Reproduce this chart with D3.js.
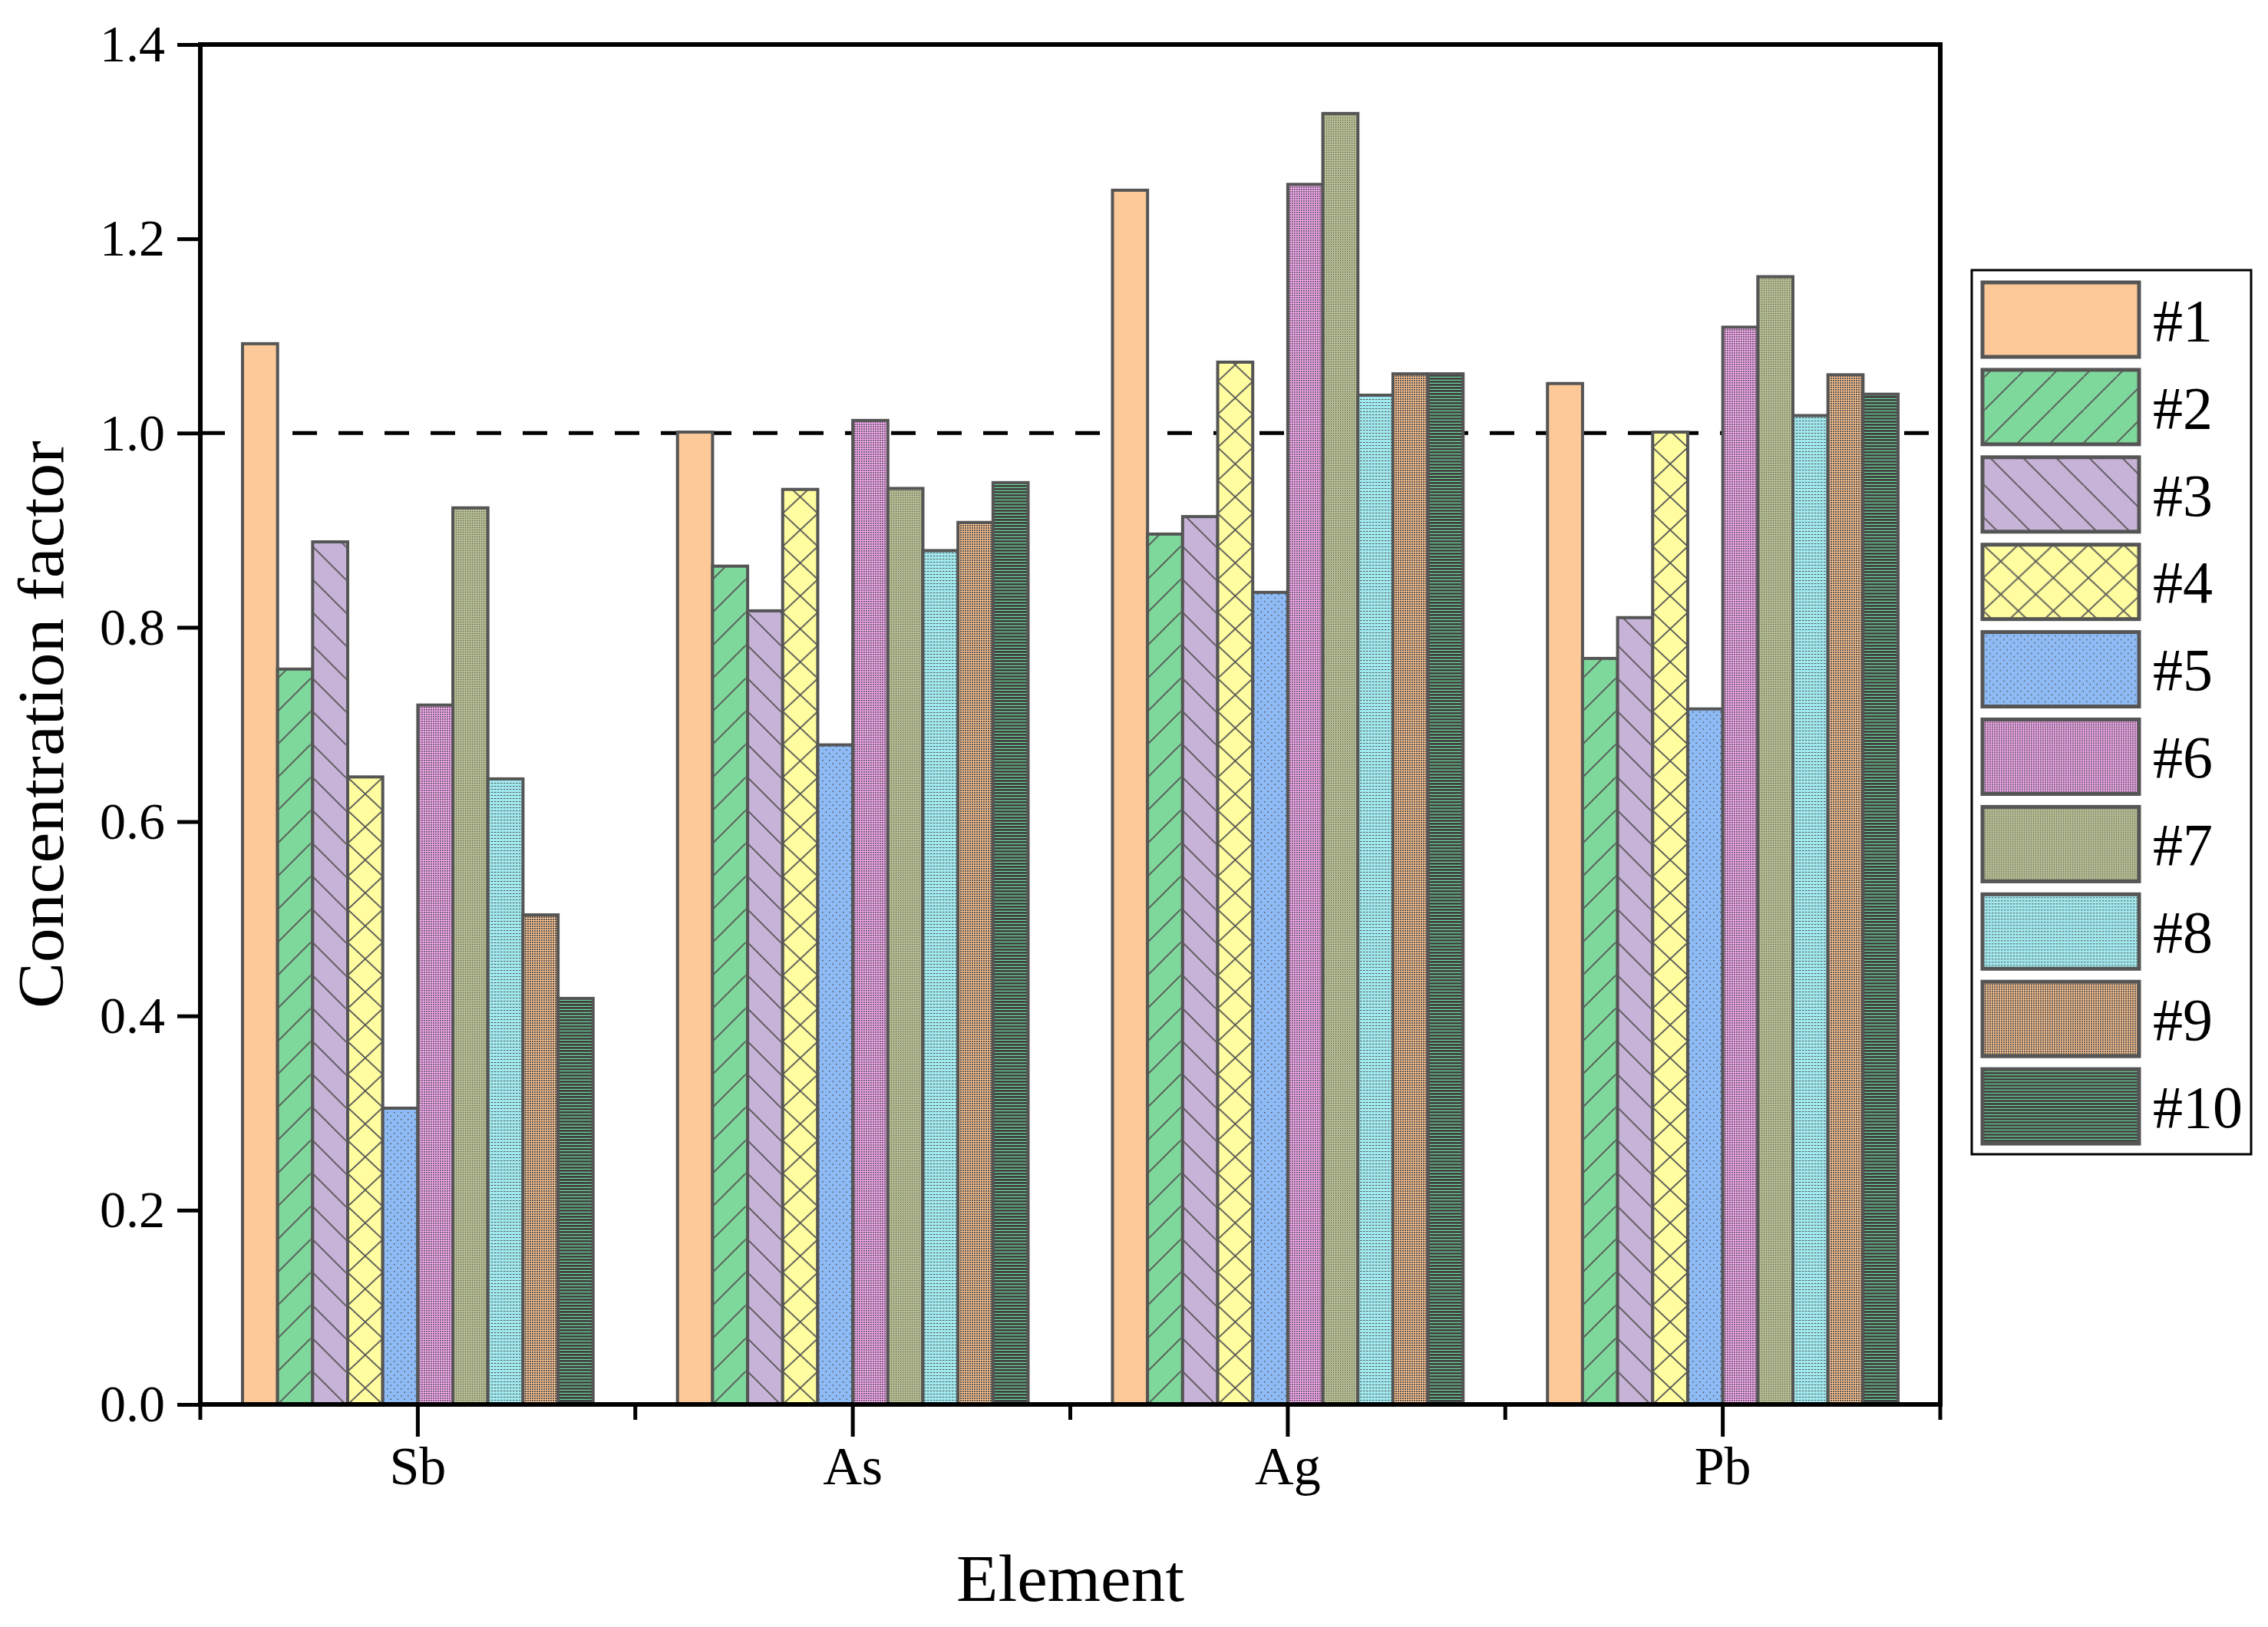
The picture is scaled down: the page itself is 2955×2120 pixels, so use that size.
<!DOCTYPE html>
<html lang="en">
<head>
<meta charset="UTF-8">
<title>Concentration factor</title>
<script src="https://cdn.jsdelivr.net/npm/d3@7"></script>
<style>
  body { margin: 0; background: #fff; }
  text { font-family: "Liberation Serif", "DejaVu Serif", serif; fill: #000; }
</style>
</head>
<body>
<svg></svg>
<script>
    // data
    var elements = ["Sb", "As", "Ag", "Pb"]
    var samples = ["#1", "#2", "#3", "#4", "#5", "#6", "#7", "#8", "#9", "#10"]
    var sbValues = [1.092, 0.757, 0.888, 0.646, 0.305, 0.720, 0.923, 0.644, 0.504, 0.418]
    var asValues = [1.001, 0.863, 0.817, 0.942, 0.679, 1.013, 0.943, 0.879, 0.908, 0.949]
    var agValues = [1.250, 0.896, 0.914, 1.073, 0.836, 1.256, 1.329, 1.039, 1.061, 1.061]
    var pbValues = [1.051, 0.768, 0.810, 1.001, 0.716, 1.109, 1.161, 1.018, 1.060, 1.040]
    var yTicks = [0, 0.2, 0.4, 0.6, 0.8, 1.0, 1.2, 1.4]
    var refLine = 1.0

    var valuesByElement = [sbValues, asValues, agValues, pbValues]

    var baseColors = ["#FDC998", "#7FD89B", "#C8B3D8", "#FFFDA0", "#8EBBF5",
                      "#FBA9F6", "#B3BB90", "#A0E9EF", "#FFC38E", "#6FD99A"]

    var W = 2955, H = 2120
    var plotL = 261, plotR = 2528, plotT = 58, plotB = 1830

    var svg = d3.select("svg")
                .attr("width", W)
                .attr("height", H)

    var defs = svg.append("defs")

    // fill patterns, one per mark so hatch lines line up with the bar's left edge
    function makePattern(id, si, xOff, yOff) {
        var hatch = 43
        var p
        if (si == 1 || si == 2 || si == 3) {
            var w = si == 3 ? 45.7 : hatch
            p = defs.append("pattern").attr("id", id)
                .attr("patternUnits", "userSpaceOnUse")
                .attr("x", xOff).attr("y", yOff)
                .attr("width", w).attr("height", hatch)
            p.append("rect").attr("width", w).attr("height", hatch).attr("fill", baseColors[si])
            var d
            if (si == 1) d = "M0," + hatch + " L" + w + ",0 M" + (-w) + "," + hatch + " L0,0 M" + w + "," + (2 * hatch) + " L" + (2 * w) + "," + hatch
            if (si == 2) d = "M0,0 L" + w + "," + hatch + " M" + (-w) + ",0 L0," + hatch + " M" + w + ",0 L" + (2 * w) + "," + hatch
            if (si == 3) d = "M0,0 L" + w + "," + hatch + " M0," + hatch + " L" + w + ",0"
            p.append("path").attr("d", d).attr("stroke", "#555").attr("stroke-width", 1.8).attr("fill", "none")
            return
        }
        var dots = {
            0: null,
            4: {t: 9, c: "#555", rects: [[0, 0, 1.5, 1.5], [4.5, 4.5, 1.5, 1.5]]},
            5: {t: 3, c: "#555", rects: [[0, 0, 1.8, 1.8]]},
            6: {t: 3, c: "#555", rects: [[0, 0, 1.1, 1.1]]},
            7: {t: 4, c: "#555", rects: [[0, 0, 2.4, 1.0]]},
            8: {t: 3, c: "#555", rects: [[0, 0, 2.0, 2.0]]},
            9: {t: 4, c: "#404040", rects: [[0, 0, 4, 2.8]]}
        }[si]
        p = defs.append("pattern").attr("id", id)
            .attr("patternUnits", "userSpaceOnUse")
            .attr("width", dots ? dots.t : 10).attr("height", dots ? dots.t : 10)
        p.append("rect").attr("width", dots ? dots.t : 10).attr("height", dots ? dots.t : 10)
            .attr("fill", baseColors[si])
        if (dots) {
            dots.rects.forEach(function (r) {
                p.append("rect").attr("x", r[0]).attr("y", r[1])
                    .attr("width", r[2]).attr("height", r[3]).attr("fill", dots.c)
            })
        }
    }

    const x0 = d3.scaleBand()
                .domain(elements)
                .range([plotL, plotR])

    const x1 = d3.scaleBand()
                .domain(samples)
                .range([x0.bandwidth() * 0.097, x0.bandwidth() * 0.903])

    const y = d3.scaleLinear()
                .domain([0, 1.4])
                .range([plotB, plotT])

    // dashed reference line behind the bars
    svg.append("line")
        .attr("x1", plotL).attr("x2", plotR)
        .attr("y1", y(refLine)).attr("y2", y(refLine))
        .attr("stroke", "#000")
        .attr("stroke-width", 5)
        .attr("stroke-dasharray", "32,28")

    // bars
    var barData = []
    elements.forEach(function (el, ei) {
        samples.forEach(function (s, si) {
            barData.push({el: el, ei: ei, s: s, si: si, v: valuesByElement[ei][si]})
        })
    })

    barData.forEach(function (d) {
        d.x = x0(d.el) + x1(d.s)
        d.id = "pat-" + d.ei + "-" + d.si
        makePattern(d.id, d.si, d.x, y(0))
    })

    svg.append("g").selectAll("rect")
        .data(barData)
        .join("rect")
        .attr("x", (d) => d.x)
        .attr("y", (d) => y(d.v))
        .attr("width", x1.bandwidth())
        .attr("height", (d) => y(0) - y(d.v))
        .attr("fill", (d) => "url(#" + d.id + ")")
        .attr("stroke", "#555")
        .attr("stroke-width", 4)

    // y axis
    var yAxis = svg.append("g")
                    .attr("transform", "translate(" + plotL + ",0)")
                    .call(d3.axisLeft(y).tickValues(yTicks).tickFormat(d3.format(".1f")).tickSize(30).tickPadding(16))
    yAxis.select(".domain").remove()
    yAxis.selectAll(".tick line").attr("stroke", "#000").attr("stroke-width", 5)
    yAxis.selectAll(".tick text").style("font-size", "68px").style("font-family", "Liberation Serif")

    // x axis: long ticks at the element centres
    var xAxis = svg.append("g")
                    .attr("transform", "translate(0," + plotB + ")")
                    .call(d3.axisBottom(x0).tickSize(42).tickPadding(12))
    xAxis.select(".domain").remove()
    xAxis.selectAll(".tick line").attr("stroke", "#000").attr("stroke-width", 5)
    xAxis.selectAll(".tick text").style("font-size", "70px").style("font-family", "Liberation Serif")

    // short ticks at the group borders
    var borders = elements.map((e) => x0(e)).concat([x0.range()[1]])
    svg.append("g").selectAll("line")
        .data(borders)
        .join("line")
        .attr("x1", (d) => d).attr("x2", (d) => d)
        .attr("y1", plotB).attr("y2", plotB + 20)
        .attr("stroke", "#000").attr("stroke-width", 5)

    // frame
    svg.append("rect")
        .attr("x", plotL).attr("y", plotT)
        .attr("width", plotR - plotL).attr("height", plotB - plotT)
        .attr("fill", "none")
        .attr("stroke", "#000")
        .attr("stroke-width", 6)

    // titles
    svg.append("text")
        .attr("transform", "translate(82," + ((plotT + plotB) / 2) + ") rotate(-90)")
        .attr("text-anchor", "middle")
        .attr("textLength", 740)
        .attr("lengthAdjust", "spacingAndGlyphs")
        .style("font-size", "84px")
        .text("Concentration factor")

    svg.append("text")
        .attr("x", (plotL + plotR) / 2)
        .attr("y", 2086)
        .attr("text-anchor", "middle")
        .attr("textLength", 297)
        .attr("lengthAdjust", "spacingAndGlyphs")
        .style("font-size", "86px")
        .text("Element")

    // legend
    var legend = svg.append("g")
    legend.append("rect")
        .attr("x", 2569).attr("y", 352)
        .attr("width", 364).attr("height", 1152)
        .attr("fill", "#fff")
        .attr("stroke", "#000")
        .attr("stroke-width", 3)

    samples.forEach(function (s, si) {
        makePattern("leg-" + si, si, 2583, 368 + si * 113.9)
    })

    var items = legend.selectAll("g.item")
        .data(samples)
        .join("g")
        .attr("class", "item")
        .attr("transform", (d, i) => "translate(2583," + (368 + i * 113.9) + ")")

    items.append("rect")
        .attr("width", 204).attr("height", 97)
        .attr("fill", (d, i) => "url(#leg-" + i + ")")
        .attr("stroke", "#555")
        .attr("stroke-width", 5)

    items.append("text")
        .attr("x", 222)
        .attr("y", 48.5)
        .attr("dy", "0.35em")
        .style("font-size", "78px")
        .text((d) => d)
</script>
</body>
</html>
